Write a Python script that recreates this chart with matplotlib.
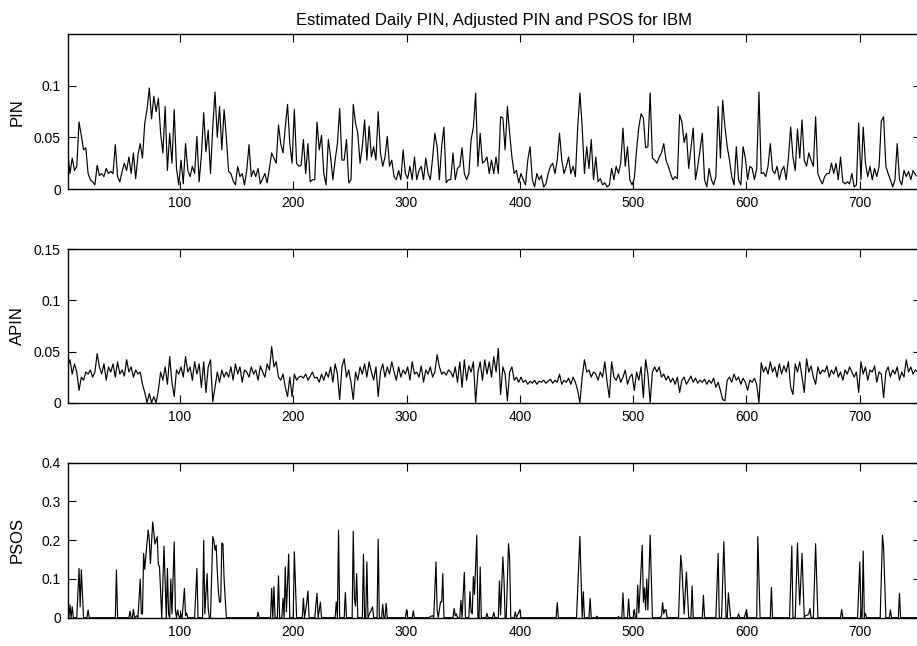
import numpy as np
import matplotlib
matplotlib.use('Agg')
import matplotlib.pyplot as plt

plt.rcParams['font.family'] = ['Liberation Sans', 'DejaVu Sans']

title = 'Estimated Daily PIN, Adjusted PIN and PSOS for IBM'

# PIN, read every 2nd day (day 1, 3, 5, ... 753)
pin = [
    0.035, 0.015, 0.030, 0.018, 0.022, 0.065, 0.052, 0.038, 0.040, 0.015,
    0.009, 0.007, 0.004, 0.023, 0.013, 0.015, 0.012, 0.020, 0.015, 0.017,
    0.015, 0.043, 0.012, 0.007, 0.017, 0.025, 0.018, 0.031, 0.015, 0.035,
    0.010, 0.033, 0.044, 0.030, 0.064, 0.077, 0.098, 0.068, 0.090, 0.075,
    0.088, 0.054, 0.035, 0.080, 0.018, 0.054, 0.025, 0.077, 0.020, 0.004,
    0.028, 0.005, 0.044, 0.018, 0.012, 0.022, 0.015, 0.051, 0.007, 0.033,
    0.074, 0.036, 0.057, 0.015, 0.060, 0.094, 0.050, 0.080, 0.038, 0.077,
    0.050, 0.017, 0.015, 0.008, 0.004, 0.022, 0.012, 0.015, 0.004, 0.018,
    0.043, 0.012, 0.018, 0.012, 0.020, 0.005, 0.010, 0.015, 0.006, 0.020,
    0.035, 0.030, 0.025, 0.062, 0.044, 0.035, 0.060, 0.082, 0.044, 0.025,
    0.077, 0.025, 0.022, 0.023, 0.048, 0.015, 0.044, 0.007, 0.009, 0.009,
    0.065, 0.038, 0.052, 0.015, 0.004, 0.048, 0.031, 0.009, 0.028, 0.044,
    0.078, 0.028, 0.028, 0.048, 0.006, 0.009, 0.082, 0.064, 0.054, 0.025,
    0.041, 0.067, 0.028, 0.061, 0.031, 0.041, 0.028, 0.075, 0.035, 0.022,
    0.031, 0.051, 0.022, 0.028, 0.012, 0.009, 0.018, 0.009, 0.038, 0.015,
    0.010, 0.022, 0.009, 0.031, 0.009, 0.018, 0.022, 0.009, 0.030, 0.015,
    0.009, 0.030, 0.054, 0.041, 0.009, 0.041, 0.060, 0.006, 0.009, 0.009,
    0.035, 0.009, 0.020, 0.022, 0.040, 0.015, 0.009, 0.015, 0.048, 0.060,
    0.093, 0.022, 0.054, 0.025, 0.027, 0.031, 0.015, 0.028, 0.015, 0.031,
    0.015, 0.070, 0.069, 0.038, 0.080, 0.054, 0.031, 0.015, 0.018, 0.006,
    0.015, 0.009, 0.004, 0.028, 0.041, 0.009, 0.002, 0.015, 0.009, 0.013,
    0.002, 0.005, 0.015, 0.022, 0.025, 0.015, 0.028, 0.054, 0.028, 0.015,
    0.022, 0.031, 0.015, 0.022, 0.012, 0.059, 0.093, 0.060, 0.015, 0.041,
    0.020, 0.048, 0.009, 0.031, 0.007, 0.010, 0.004, 0.006, 0.002, 0.004,
    0.020, 0.009, 0.022, 0.015, 0.025, 0.059, 0.022, 0.041, 0.009, 0.004,
    0.010, 0.038, 0.060, 0.073, 0.069, 0.040, 0.041, 0.093, 0.030, 0.028,
    0.025, 0.031, 0.035, 0.044, 0.028, 0.022, 0.015, 0.009, 0.012, 0.010,
    0.072, 0.065, 0.045, 0.054, 0.020, 0.040, 0.059, 0.009, 0.022, 0.038,
    0.054, 0.009, 0.002, 0.020, 0.009, 0.004, 0.012, 0.080, 0.030, 0.086,
    0.060, 0.041, 0.028, 0.012, 0.004, 0.041, 0.009, 0.004, 0.041, 0.030,
    0.009, 0.022, 0.020, 0.009, 0.020, 0.094, 0.015, 0.016, 0.012, 0.022,
    0.044, 0.018, 0.015, 0.022, 0.009, 0.018, 0.022, 0.009, 0.030, 0.060,
    0.031, 0.018, 0.058, 0.030, 0.067, 0.028, 0.022, 0.035, 0.028, 0.022,
    0.070, 0.015, 0.009, 0.005, 0.012, 0.015, 0.015, 0.025, 0.015, 0.025,
    0.009, 0.031, 0.007, 0.005, 0.007, 0.005, 0.015, 0.002, 0.004, 0.064,
    0.009, 0.060, 0.025, 0.012, 0.022, 0.009, 0.020, 0.012, 0.022, 0.066,
    0.070, 0.022, 0.015, 0.009, 0.002, 0.009, 0.044, 0.009, 0.004, 0.018,
    0.012, 0.017, 0.009, 0.018, 0.014, 0.012, 0.015,
]

# adjusted PIN, same days
apin = [
    0.035, 0.042, 0.028, 0.038, 0.030, 0.012, 0.025, 0.022, 0.030, 0.028,
    0.032, 0.025, 0.030, 0.048, 0.035, 0.028, 0.038, 0.022, 0.035, 0.030,
    0.038, 0.025, 0.040, 0.028, 0.032, 0.026, 0.042, 0.030, 0.035, 0.025,
    0.032, 0.028, 0.030, 0.018, 0.010, 0.000, 0.009, 0.000, 0.006, 0.000,
    0.012, 0.030, 0.022, 0.035, 0.018, 0.045, 0.020, 0.006, 0.032, 0.028,
    0.035, 0.025, 0.045, 0.030, 0.035, 0.022, 0.040, 0.028, 0.038, 0.015,
    0.040, 0.010, 0.035, 0.042, 0.001, 0.015, 0.030, 0.020, 0.032, 0.025,
    0.030, 0.025, 0.035, 0.022, 0.038, 0.028, 0.035, 0.020, 0.032, 0.030,
    0.025, 0.035, 0.028, 0.032, 0.022, 0.036, 0.030, 0.025, 0.038, 0.032,
    0.055, 0.035, 0.040, 0.025, 0.022, 0.028, 0.015, 0.006, 0.025, 0.006,
    0.028, 0.022, 0.025, 0.026, 0.024, 0.028, 0.022, 0.026, 0.030, 0.024,
    0.025, 0.020, 0.028, 0.022, 0.030, 0.025, 0.035, 0.020, 0.038, 0.028,
    0.003, 0.035, 0.043, 0.025, 0.032, 0.020, 0.003, 0.030, 0.022, 0.035,
    0.028, 0.038, 0.025, 0.040, 0.030, 0.022, 0.035, 0.006, 0.030, 0.038,
    0.025, 0.035, 0.028, 0.040, 0.030, 0.022, 0.035, 0.025, 0.032, 0.028,
    0.035, 0.022, 0.040, 0.028, 0.030, 0.025, 0.036, 0.020, 0.032, 0.028,
    0.035, 0.025, 0.030, 0.047, 0.035, 0.028, 0.030, 0.027, 0.032, 0.030,
    0.025, 0.035, 0.020, 0.040, 0.015, 0.042, 0.022, 0.036, 0.030, 0.040,
    0.000, 0.030, 0.040, 0.022, 0.042, 0.028, 0.040, 0.025, 0.045, 0.030,
    0.053, 0.008, 0.035, 0.028, 0.002, 0.030, 0.035, 0.022, 0.025, 0.020,
    0.025, 0.020, 0.022, 0.018, 0.021, 0.019, 0.022, 0.018, 0.021, 0.020,
    0.022, 0.019, 0.021, 0.023, 0.019, 0.022, 0.020, 0.028, 0.018, 0.022,
    0.020, 0.024, 0.018, 0.025, 0.020, 0.012, 0.000, 0.025, 0.042, 0.030,
    0.032, 0.025, 0.030, 0.028, 0.022, 0.030, 0.025, 0.040, 0.020, 0.005,
    0.040, 0.025, 0.022, 0.028, 0.020, 0.025, 0.032, 0.018, 0.025, 0.028,
    0.012, 0.030, 0.022, 0.035, 0.005, 0.042, 0.028, 0.000, 0.030, 0.035,
    0.030, 0.035, 0.025, 0.028, 0.022, 0.026, 0.020, 0.024, 0.018, 0.025,
    0.010, 0.022, 0.025, 0.018, 0.022, 0.026, 0.020, 0.024, 0.019, 0.022,
    0.020, 0.023, 0.018, 0.022, 0.019, 0.024, 0.015, 0.020, 0.012, 0.003,
    0.002, 0.022, 0.025, 0.020, 0.028, 0.022, 0.025, 0.018, 0.024, 0.020,
    0.012, 0.022, 0.020, 0.024, 0.018, 0.000, 0.039, 0.030, 0.035, 0.028,
    0.040, 0.030, 0.035, 0.025, 0.038, 0.028, 0.036, 0.030, 0.040, 0.015,
    0.008, 0.038, 0.030, 0.040, 0.025, 0.010, 0.043, 0.030, 0.036, 0.025,
    0.018, 0.035, 0.028, 0.032, 0.030, 0.036, 0.025, 0.032, 0.028, 0.035,
    0.025, 0.030, 0.022, 0.032, 0.028, 0.035, 0.030, 0.025, 0.030, 0.010,
    0.040, 0.028, 0.035, 0.022, 0.032, 0.030, 0.036, 0.020, 0.030, 0.028,
    0.005, 0.030, 0.035, 0.025, 0.032, 0.028, 0.035, 0.022, 0.030, 0.025,
    0.042, 0.030, 0.035, 0.028, 0.032, 0.030, 0.035,
]

days = np.arange(1, 2 * len(pin), 2)

# PSOS is zero most days, so only the days around each spike are listed
psos_days = [
    1, 2, 3, 4, 5, 6, 9, 11, 12, 13, 15, 18, 19, 20, 43, 44, 45,
    55, 56, 57, 58, 59, 60, 62, 63, 65, 66, 67, 68, 69, 70, 72, 73, 74,
    76, 77, 78, 79, 80, 81, 82, 84, 86, 88, 89, 90, 91, 92, 93, 95, 96,
    97, 98, 99, 100, 101, 102, 104, 105, 106, 107, 113, 115, 116, 120,
    121, 122, 124, 125, 126, 127, 129, 130, 131, 132, 133, 134, 135, 136,
    137, 138, 139, 141, 168, 169, 170, 180, 181, 182, 183, 184, 186, 187,
    188, 190, 191, 192, 193, 194, 196, 197, 200, 201, 203, 208, 209, 210,
    212, 213, 214, 219, 221, 222, 224, 225, 237, 238, 239, 240, 241, 245,
    246, 247, 252, 253, 254, 255, 256, 257, 261, 262, 263, 264, 265, 266,
    268, 269, 270, 271, 274, 275, 276, 278, 279, 280, 281, 282, 283, 299,
    300, 301, 305, 306, 307, 320, 321, 323, 324, 326, 327, 328, 330, 331,
    332, 333, 341, 342, 343, 344, 345, 347, 348, 349, 351, 352, 355, 356,
    357, 358, 359, 360, 362, 363, 364, 365, 366, 370, 371, 372, 376, 377,
    378, 381, 382, 383, 385, 386, 387, 388, 390, 391, 392, 395, 396, 397,
    400, 401, 432, 433, 434, 450, 453, 455, 456, 457, 461, 462, 463, 467,
    468, 469, 486, 487, 488, 490, 491, 492, 495, 496, 497, 500, 501, 502,
    503, 504, 505, 508, 509, 510, 511, 512, 513, 515, 517, 524, 525, 526,
    527, 528, 529, 530, 540, 542, 543, 545, 547, 549, 551, 552, 553, 561,
    562, 563, 573, 575, 576, 578, 580, 582, 583, 584, 586, 592, 593, 594,
    598, 599, 600, 601, 609, 610, 612, 621, 622, 623, 638, 640, 641, 643,
    645, 646, 647, 649, 651, 652, 654, 655, 656, 657, 659, 661, 663, 683,
    684, 685, 698, 700, 701, 702, 703, 704, 705, 706, 718, 720, 721, 723,
    726, 727, 728, 734, 735, 736, 753,
]
psos = [
    0.033, 0, 0.033, 0, 0.028, 0, 0, 0.127, 0.028, 0.124, 0, 0, 0.02, 0, 0, 0.123, 0,
    0, 0.017, 0, 0, 0.021, 0, 0.005, 0, 0.1, 0.01, 0.01, 0.166, 0.125, 0.16, 0.226, 0.2, 0.14,
    0.247, 0.22, 0.19, 0.2, 0.209, 0.136, 0.133, 0, 0.185, 0, 0.127, 0.01, 0, 0.1, 0.01, 0.196, 0.02,
    0, 0.02, 0.005, 0, 0.01, 0, 0.076, 0.005, 0.012, 0, 0, 0.127, 0, 0,
    0.2, 0.01, 0.114, 0.024, 0, 0, 0.209, 0.2, 0.174, 0.187, 0.12, 0.067, 0.04, 0.041,
    0.193, 0.19, 0.1, 0, 0, 0.014, 0, 0, 0.076, 0, 0.08, 0, 0, 0.108,
    0, 0, 0.05, 0, 0.131, 0.015, 0.164, 0, 0, 0.17, 0, 0, 0.05, 0,
    0.04, 0.069, 0, 0, 0.063, 0, 0.04, 0, 0, 0.041, 0, 0.226, 0, 0,
    0.065, 0, 0, 0.223, 0.05, 0.03, 0.114, 0, 0, 0.164, 0, 0, 0.144, 0,
    0.015, 0.02, 0.028, 0, 0, 0.203, 0, 0, 0.034, 0, 0, 0.037, 0, 0,
    0.021, 0, 0, 0.018, 0, 0, 0.003, 0.005, 0, 0.144, 0.02, 0, 0.041, 0.04,
    0.114, 0, 0, 0.024, 0.005, 0.01, 0, 0, 0.045, 0, 0.117, 0, 0, 0.067,
    0.015, 0.01, 0.106, 0.06, 0.213, 0, 0, 0.131, 0, 0, 0.011, 0, 0, 0.014,
    0, 0, 0.095, 0.007, 0.157, 0.1, 0, 0, 0.191, 0.15, 0, 0, 0.015, 0,
    0.021, 0, 0, 0.039, 0, 0, 0.21, 0, 0.067, 0, 0, 0.05, 0, 0,
    0.004, 0, 0, 0.003, 0, 0, 0.064, 0, 0, 0.048, 0, 0, 0.021, 0,
    0, 0.084, 0.012, 0.187, 0.04, 0.077, 0.02, 0.1, 0.02, 0.213, 0, 0, 0.005, 0.039,
    0.01, 0.02, 0.021, 0, 0, 0.161, 0.13, 0.01, 0.118, 0, 0, 0.082, 0, 0,
    0.058, 0, 0, 0.166, 0, 0, 0.196, 0, 0, 0.064, 0, 0, 0.01, 0,
    0, 0.01, 0.021, 0, 0, 0.209, 0, 0, 0.078, 0, 0, 0.185, 0, 0,
    0.193, 0.1, 0.033, 0.166, 0, 0.005, 0.007, 0.01, 0.024, 0, 0, 0.191, 0, 0,
    0.021, 0, 0, 0.144, 0.01, 0, 0.172, 0, 0.011, 0, 0, 0.213, 0.18, 0,
    0, 0.02, 0, 0, 0.063, 0, 0,
]

panels = [
    ('PIN', pin, [0, 0.05, 0.1], ['0', '0.05', '0.1'], 0.15),
    ('APIN', apin, [0, 0.05, 0.1, 0.15], ['0', '0.05', '0.1', '0.15'], 0.15),
    ('PSOS', psos, [0, 0.1, 0.2, 0.3, 0.4], ['0', '0.1', '0.2', '0.3', '0.4'], 0.4),
]
xticks = [100, 200, 300, 400, 500, 600, 700]

W, H = 917, 646
fig = plt.figure(figsize=(W / 100, H / 100), dpi=100)
left = 67.7 / W
width = (921 - 67.7) / W
tops = [34.3, 249.3, 462.7]
bottoms = [189.0, 402.7, 617.7]

for i, (name, vals, yt, ytl, ymax) in enumerate(panels):
    ax = fig.add_axes([left, 1 - bottoms[i] / H, width, (bottoms[i] - tops[i]) / H])
    if name == 'PSOS':
        ax.plot(psos_days, vals, color='black', lw=0.85)
    else:
        ax.plot(days, vals, color='black', lw=0.85)
    ax.set_xlim(1, 754)
    ax.set_ylim(0, ymax)
    ax.set_xticks(xticks)
    ax.set_yticks(yt)
    ax.set_yticklabels(ytl)
    ax.tick_params(direction='in', top=True, right=True, length=6, width=0.8,
                   labelsize=10, pad=5)
    for s in ax.spines.values():
        s.set_linewidth(1.0)
    ax.set_ylabel(name, fontsize=12)
    ax.yaxis.set_label_coords(-0.050, 0.5)
    if i == 0:
        ax.set_title(title, fontsize=12, pad=7)

fig.savefig('out.png', dpi=100)
